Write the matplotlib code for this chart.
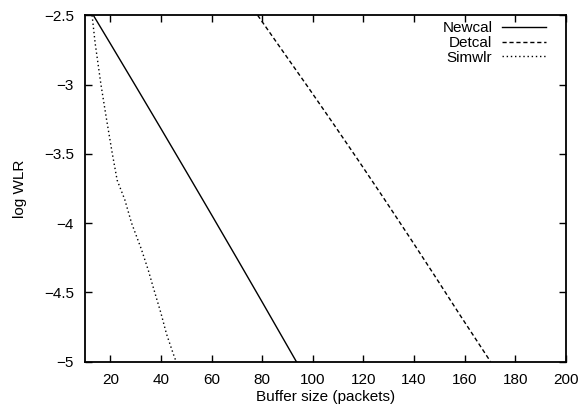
import matplotlib
matplotlib.use("Agg")
import matplotlib.pyplot as plt
from matplotlib.ticker import FuncFormatter, MultipleLocator

# values
newcal_x = [13.3, 20, 30, 40, 50, 60, 70, 80, 93.5]
newcal_y = [-2.5, -2.704, -3.010, -3.318, -3.628, -3.940, -4.254, -4.570, -5.0]

detcal_x = [78.2, 88, 98, 108, 118, 128, 138, 148, 158, 170.2]
detcal_y = [-2.5, -2.756, -3.016, -3.280, -3.548, -3.820, -4.096, -4.376, -4.660, -5.0]

simwlr_x = [12.8, 14.0, 16.3, 18.5, 20.8, 22.7, 25.7, 28.4, 32.3, 35.0, 36.9, 40.0, 42.2, 44.8, 46.0]
simwlr_y = [-2.5, -2.7, -3.0, -3.25, -3.5, -3.69, -3.83, -4.0, -4.19, -4.34, -4.46, -4.65, -4.8, -4.94, -5.0]

xticks = [20, 40, 60, 80, 100, 120, 140, 160, 180, 200]

plt.rcParams['font.family'] = ['Liberation Sans', 'DejaVu Sans']
plt.rcParams['font.size'] = 11

fig = plt.figure(figsize=(5.81, 4.12), dpi=100)
ax = fig.add_axes([0.1463, 0.1221, 0.8279, 0.8408])

ax.plot(newcal_x, newcal_y, color='black', lw=1.0, ls='-', label='Newcal')
ax.plot(detcal_x, detcal_y, color='black', lw=1.0, ls=(0, (3, 2)), label='Detcal')
ax.plot(simwlr_x, simwlr_y, color='black', lw=1.0, ls=(0, (1, 2)), label='Simwlr')

ax.set_xlim(10, 200)
ax.set_ylim(-5, -2.5)
ax.set_xticks(xticks)
ax.yaxis.set_major_locator(MultipleLocator(0.5))

fmt = FuncFormatter(lambda v, p: ('%g' % v).replace('-', '\u2212'))
ax.xaxis.set_major_formatter(fmt)
ax.yaxis.set_major_formatter(fmt)

ax.tick_params(direction='in', length=5, width=1, top=True, right=True, pad=8)
for s in ax.spines.values():
    s.set_linewidth(1.3)

ax.set_xlabel('Buffer size (packets)', labelpad=2)
ax.set_ylabel('log WLR', labelpad=12)

leg = ax.legend(loc='upper right', bbox_to_anchor=(0.958, 0.983), frameon=False,
                markerfirst=False, handlelength=2.9, handletextpad=0.6,
                labelspacing=0.05, borderpad=0, borderaxespad=0)
for t in leg.get_texts():
    t.set_ha('right')

fig.savefig('out.png', dpi=100)
